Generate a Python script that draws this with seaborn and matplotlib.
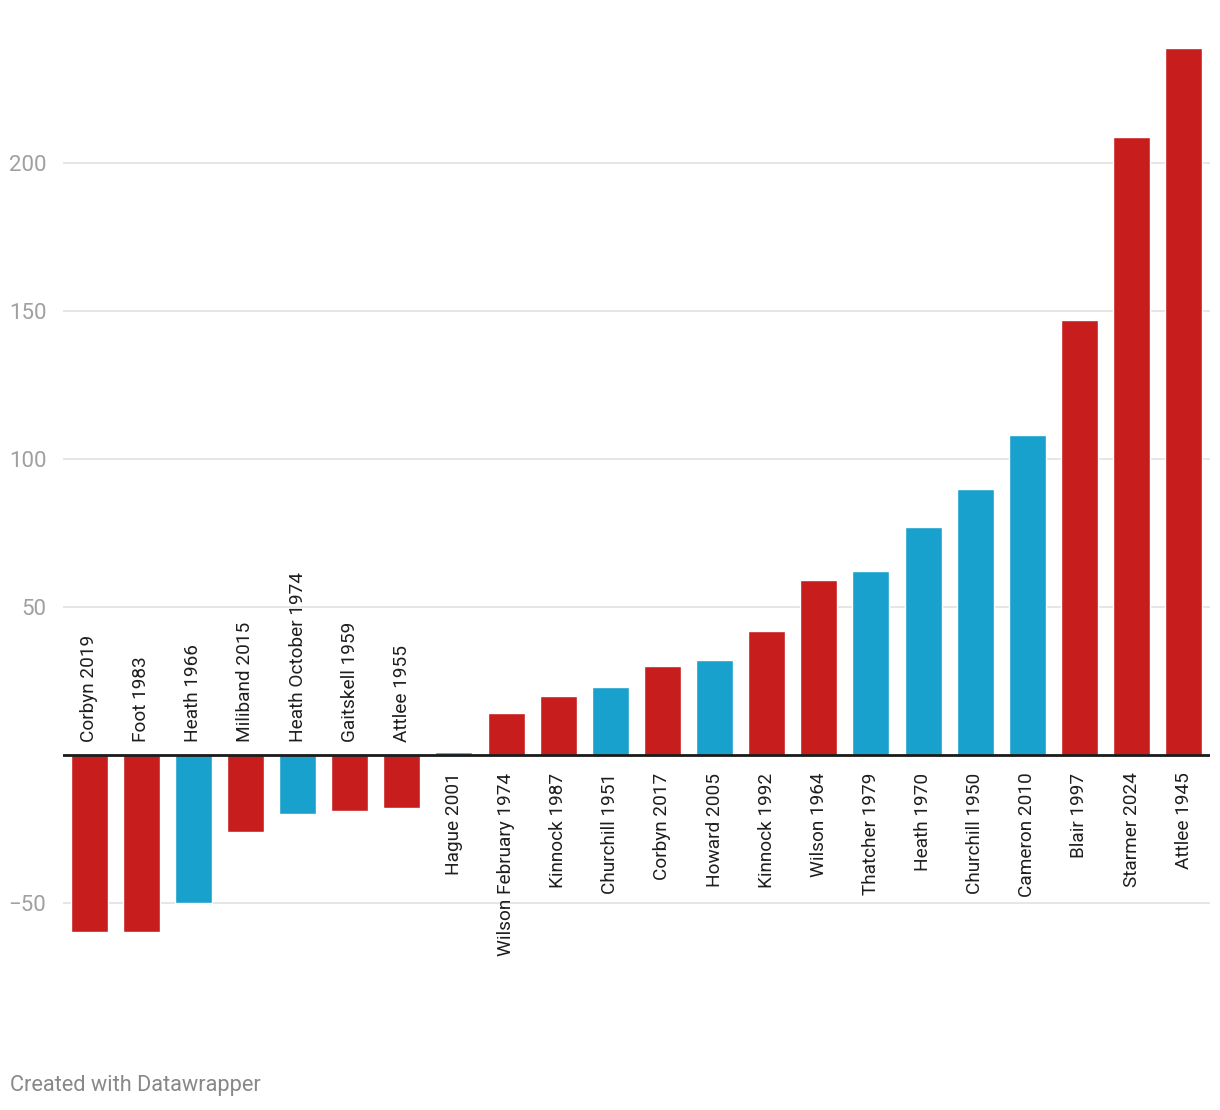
import matplotlib
matplotlib.use("Agg")
import matplotlib.pyplot as plt
import seaborn as sns
import pandas as pd

leaders = ["Corbyn 2019", "Foot 1983", "Heath 1966", "Miliband 2015", "Heath October 1974",
           "Gaitskell 1959", "Attlee 1955", "Hague 2001", "Wilson February 1974", "Kinnock 1987",
           "Churchill 1951", "Corbyn 2017", "Howard 2005", "Kinnock 1992", "Wilson 1964",
           "Thatcher 1979", "Heath 1970", "Churchill 1950", "Cameron 2010", "Blair 1997",
           "Starmer 2024", "Attlee 1945"]
seats = [-60, -60, -50, -26, -20, -19, -18, 1, 14, 20, 23, 30, 32, 42, 59, 62, 77, 90, 108, 147, 209, 239]
party = ["Lab", "Lab", "Con", "Lab", "Con", "Lab", "Lab", "Con", "Lab", "Lab", "Con", "Lab",
         "Con", "Lab", "Lab", "Con", "Con", "Con", "Con", "Lab", "Lab", "Lab"]
ytick_vals = [-50, 50, 100, 150, 200]
ytick_labels = ["\u221250", "50", "100", "150", "200"]

colours = {"Lab": "#c71e1d", "Con": "#18a1cd"}

df = pd.DataFrame({"leader": leaders, "seats": seats, "party": party})

sns.set_theme(style="white")
plt.rcParams["font.family"] = ["Roboto", "DejaVu Sans"]

fig = plt.figure(figsize=(12.2, 11.1), dpi=100)
ax = fig.add_axes([0.0516, 0.1468, 0.940, 0.8126])

sns.barplot(data=df, x="leader", y="seats", hue="party", palette=colours,
            order=leaders, dodge=False, width=0.71, legend=False, ax=ax, saturation=1)

ax.set_xlim(-0.5, 21.5)
ax.set_ylim(-65, 240)

for v in ytick_vals:
    ax.axhline(v, color="#e2e2e2", lw=1.2, zorder=0)
ax.axhline(0, color="#1a1a1a", lw=2, zorder=3)

ax.set_yticks(ytick_vals)
ax.set_yticklabels(ytick_labels, fontsize=16, color="#a0a0a0")
ax.tick_params(axis="y", length=0, pad=12)
ax.set_xticks([])
ax.set_xlabel("")
ax.set_ylabel("")
for s in ax.spines.values():
    s.set_visible(False)

# leader names sit on the other side of the zero line from the bar
for i, (name, val) in enumerate(zip(leaders, seats)):
    if val < 0:
        ax.text(i, 4.4, name, rotation=90, ha="center", va="bottom",
                fontsize=13.7, color="#1e1e1e")
    else:
        ax.text(i, -6.0, name, rotation=90, ha="center", va="top",
                fontsize=13.7, color="#1e1e1e")

fig.text(10 / 1220, 1 - 1085 / 1110, "Created with Datawrapper", fontsize=15.7,
         color="#888888", ha="left", va="center")

fig.savefig("out.png", dpi=100)
